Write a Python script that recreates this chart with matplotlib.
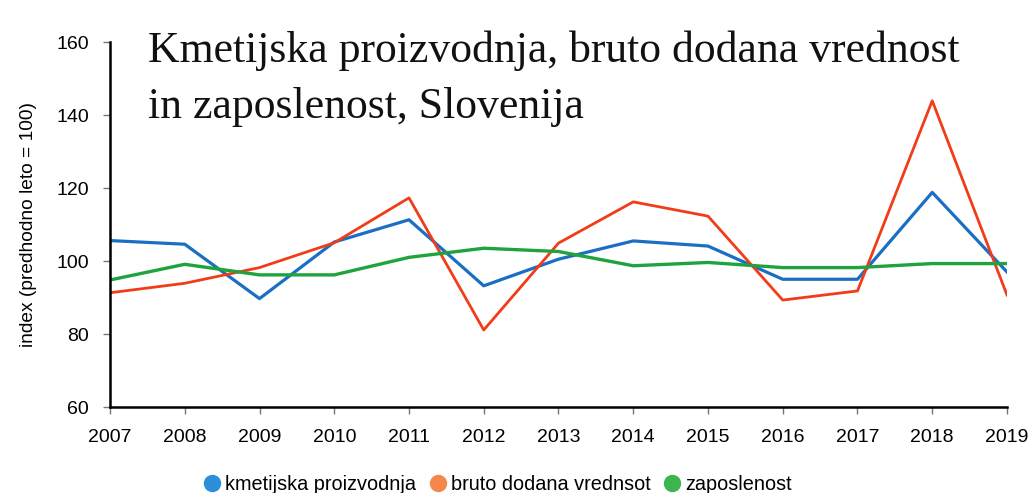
import matplotlib.pyplot as plt
import numpy as np
from matplotlib.lines import Line2D

years = [2007, 2008, 2009, 2010, 2011, 2012, 2013, 2014, 2015, 2016, 2017, 2018, 2019]
kmetijska = [105.6, 104.6, 89.7, 105.2, 111.3, 93.2, 100.5, 105.5, 104.1, 95.0, 95.0, 118.8, 97.0]
bruto = [91.3, 93.9, 98.2, 105.0, 117.3, 81.1, 104.9, 116.2, 112.3, 89.3, 91.8, 143.9, 90.7]
zaposlenost = [94.8, 99.1, 96.2, 96.2, 101.0, 103.5, 102.6, 98.7, 99.6, 98.2, 98.2, 99.3, 99.3]

labels = ['kmetijska proizvodnja', 'bruto dodana vrednsot', 'zaposlenost']
line_colors = ['#1a6ec4', '#f23c18', '#1fa33c']
dot_colors = ['#2a8fd8', '#f5874e', '#3db54f']

plt.rcParams['font.family'] = ['Liberation Sans', 'DejaVu Sans']

fig = plt.figure(figsize=(10.31, 4.93), dpi=100)
ax = fig.add_axes([0.1067, 0.1744, 0.87, 0.7404])

ax.plot(years, kmetijska, color=line_colors[0], lw=2.3)
ax.plot(years, bruto, color=line_colors[1], lw=2.0)
ax.plot(years, zaposlenost, color=line_colors[2], lw=2.4)

ax.set_xlim(2007, 2019)
ax.set_ylim(60, 160)
ax.set_xticks(years)
ax.set_yticks(np.arange(60, 161, 20))
ax.tick_params(axis='both', labelsize=14, color='#777777', length=5, width=1)
ax.tick_params(axis='x', pad=11)
ax.tick_params(axis='y', pad=10)
ax.set_ylabel('index (predhodno leto = 100)', fontsize=13.8, labelpad=14)

for s in ['top', 'right']:
    ax.spines[s].set_visible(False)
for s in ['left', 'bottom']:
    ax.spines[s].set_color('black')
    ax.spines[s].set_linewidth(1.8)

fig.text(0.1435, 0.874, 'Kmetijska proizvodnja, bruto dodana vrednost',
         family='Liberation Serif', fontsize=31.5, color='#111111', va='baseline')
fig.text(0.1435, 0.761, 'in zaposlenost, Slovenija',
         family='Liberation Serif', fontsize=31.5, color='#111111', va='baseline')

handles = [Line2D([], [], ls='none', marker='o', markersize=11.5,
                  markerfacecolor=c, markeredgecolor=c) for c in dot_colors]
fig.legend(handles, labels, loc='center', bbox_to_anchor=(0.482, 0.018), ncol=3,
           frameon=False, fontsize=14.3, handletextpad=0.15, columnspacing=0.6,
           handlelength=1.0)

fig.savefig('out.png', dpi=100)
